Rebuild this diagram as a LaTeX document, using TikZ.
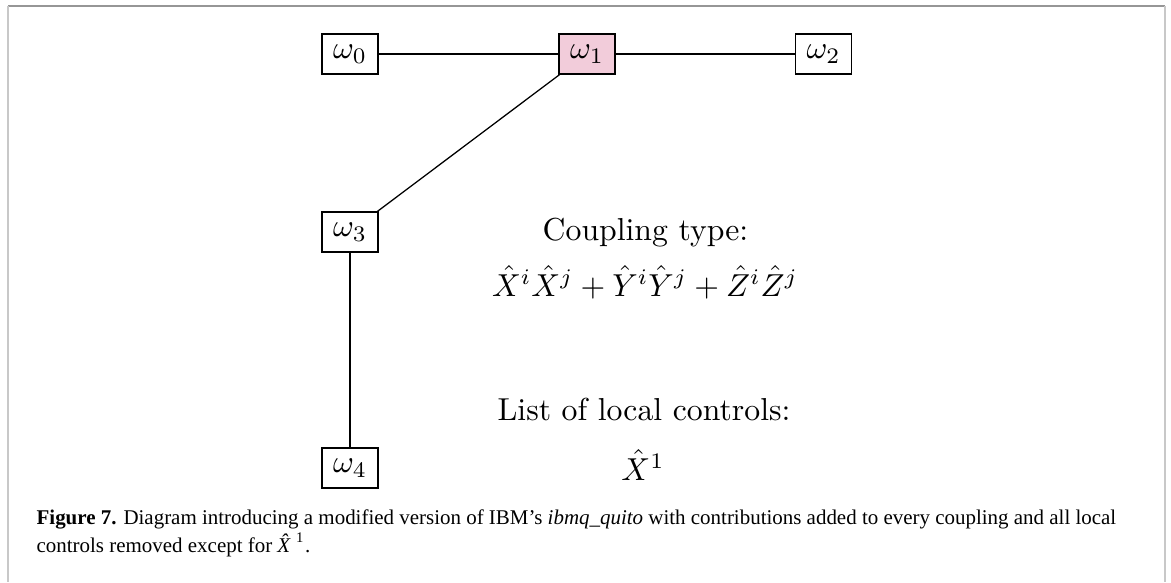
\documentclass[tikz,border=0pt]{standalone}
\usepackage{fontspec}
\newfontfamily\capfont[Ligatures=TeX]{Liberation Serif}
\definecolor{qpink}{RGB}{242,204,218}
\definecolor{framegray}{RGB}{150,150,150}
\definecolor{framelight}{RGB}{200,200,200}
\begin{document}
\begin{tikzpicture}[x=0.315pt,y=-0.315pt,
  qubit/.style={draw=black,line width=0.4pt,minimum width=56*0.315pt,minimum height=40*0.315pt,inner sep=0pt,font=\fontsize{10}{12}\selectfont},
  edge/.style={draw=black,line width=0.4pt},
  label/.style={inner sep=0pt,anchor=base,font=\fontsize{10}{12}\selectfont},
  capline/.style={inner sep=0pt,anchor=base west,font=\capfont\fontsize{6.6}{8.8}\selectfont}]
\useasboundingbox (0,0) rectangle (1171,582);
\fill[white] (0,0) rectangle (1171,582);
\draw[framegray,line width=0.5pt] (8,6) -- (1165,6);
\draw[framelight,line width=0.5pt] (8,6) -- (8,582);
\draw[framelight,line width=0.5pt] (1165,6) -- (1165,582);

\node[qubit] (w0) at (350,54) {$\omega_0$};
\node[qubit,fill=qpink] (w1) at (587,54) {$\omega_1$};
\node[qubit] (w2) at (823.5,54) {$\omega_2$};
\node[qubit] (w3) at (350,232) {$\omega_3$};
\node[qubit] (w4) at (350,468) {$\omega_4$};

\draw[edge] (w0) -- (w1);
\draw[edge] (w1) -- (w2);
\draw[edge] (w1) -- (w3);
\draw[edge] (w3) -- (w4);

\node[label] (ct) at (645.5,240) {Coupling type:};
\node[label] (cf) at (645,296) {$\hat{X}^i\hat{X}^j+\hat{Y}^i\hat{Y}^j+\hat{Z}^i\hat{Z}^j$};
\node[label] (lc) at (644,420) {List of local controls:};
\node[label] (lx) at (643,480) {$\hat{X}^1$};

\node[capline] (cap1) at (36,524) {\textbf{Figure 7.} Diagram introducing a modified version of IBM’s \textit{ibmq\_quito} with contributions added to every coupling and all local};
\node[capline] (cap2) at (36,552) {controls removed except for \textit{\^X}\kern-0.6pt\textsuperscript{1}.};
\end{tikzpicture}
\end{document}
